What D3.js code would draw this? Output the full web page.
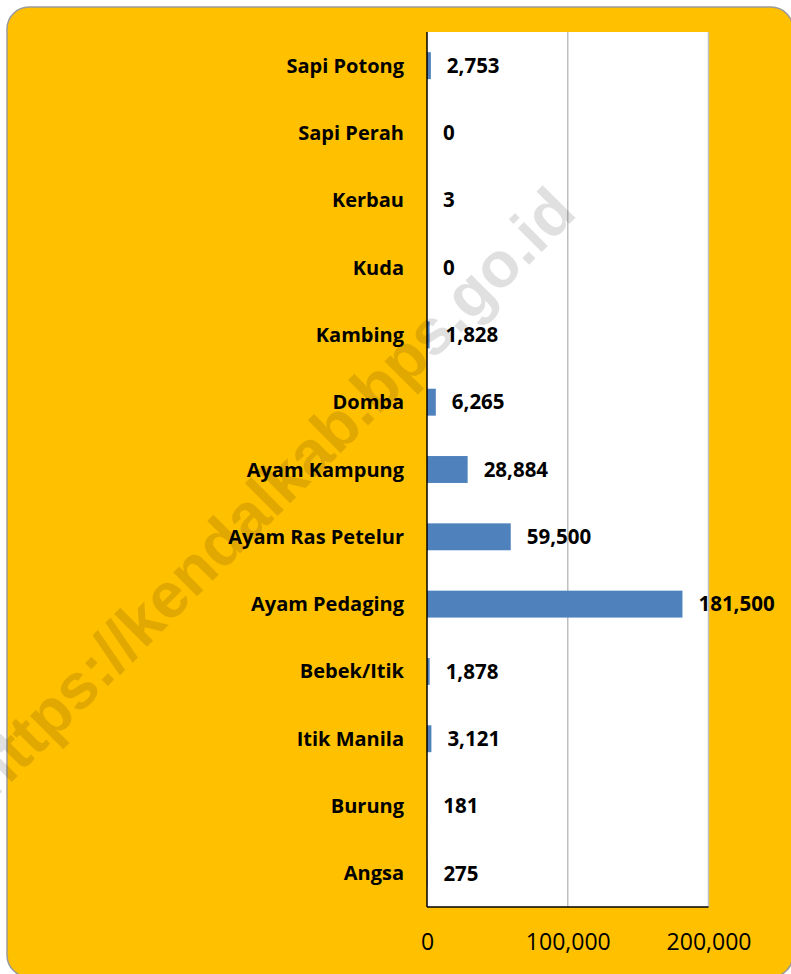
<!DOCTYPE html>
<html>
<head>
<meta charset="utf-8">
<script src="https://cdn.jsdelivr.net/npm/d3@7"></script>
<style>
  html, body { margin: 0; padding: 0; background: #ffffff; }
  svg { display: block; }
</style>
</head>
<body>
<div id="chart"></div>
<script>
const categories = ["Sapi Potong", "Sapi Perah", "Kerbau", "Kuda", "Kambing", "Domba",
  "Ayam Kampung", "Ayam Ras Petelur", "Ayam Pedaging", "Bebek/Itik", "Itik Manila", "Burung", "Angsa"];
const values = [2753, 0, 3, 0, 1828, 6265, 28884, 59500, 181500, 1878, 3121, 181, 275];
const tickValues = [0, 100000, 200000];
const watermark = "https://kendalkab.bps.go.id";

const W = 791, H = 974;
const plot = { left: 427, right: 708.5, top: 32, bottom: 907 };
const labelFont = "'Open Sans', Lato, sans-serif";

const svg = d3.select("#chart").append("svg").attr("width", W).attr("height", H);

// background panel
svg.append("rect")
  .attr("x", 7).attr("y", 7).attr("width", 786).attr("height", 970)
  .attr("rx", 22).attr("ry", 22)
  .attr("fill", "#FFC000").attr("stroke", "#9a9a9a").attr("stroke-width", 1.5);

const x = d3.scaleLinear().domain([0, 200000]).range([plot.left, plot.right]);
const y = d3.scaleBand().domain(categories).range([plot.top, plot.bottom]).paddingInner(0.6).paddingOuter(0.3);

// plot area
svg.append("rect")
  .attr("x", plot.left).attr("y", plot.top)
  .attr("width", plot.right - plot.left).attr("height", plot.bottom - plot.top)
  .attr("fill", "#ffffff");

// gridlines
svg.append("g").selectAll("line").data(tickValues.filter(d => d > 0)).join("line")
  .attr("x1", d => x(d)).attr("x2", d => x(d))
  .attr("y1", plot.top).attr("y2", plot.bottom)
  .attr("stroke", "#bfbfbf").attr("stroke-width", 1.5);

// bars
svg.append("g").selectAll("rect").data(categories).join("rect")
  .attr("x", x(0))
  .attr("y", d => y(d))
  .attr("width", (d, i) => x(values[i]) - x(0))
  .attr("height", y.bandwidth())
  .attr("fill", "#4F81BD");

// axis lines
svg.append("line").attr("x1", plot.left).attr("x2", plot.left).attr("y1", plot.top).attr("y2", plot.bottom)
  .attr("stroke", "#000").attr("stroke-width", 1.5);
svg.append("line").attr("x1", plot.left).attr("x2", plot.right).attr("y1", plot.bottom).attr("y2", plot.bottom)
  .attr("stroke", "#000").attr("stroke-width", 1.5);

// x axis tick labels
const xAxis = d3.axisBottom(x).tickValues(tickValues).tickFormat(d3.format(",")).tickSize(0).tickPadding(0);
const gx = svg.append("g").attr("transform", `translate(0,${plot.bottom})`).call(xAxis);
gx.select(".domain").remove();
gx.selectAll("text")
  .attr("y", 35).attr("dy", "0.35em")
  .attr("font-family", labelFont).attr("font-size", 23).attr("fill", "#000");

// category labels
const yAxis = d3.axisLeft(y).tickSize(0).tickPadding(0);
const gy = svg.append("g").attr("transform", `translate(404,0)`).call(yAxis);
gy.select(".domain").remove();
gy.selectAll("text")
  .attr("x", 0).attr("dy", "0.35em")
  .attr("font-family", labelFont).attr("font-size", 20).attr("font-weight", "bold").attr("fill", "#000");

// value labels
svg.append("g").selectAll("text").data(categories).join("text")
  .attr("x", (d, i) => x(values[i]) + 16)
  .attr("y", d => y(d) + y.bandwidth() / 2)
  .attr("dy", "0.35em")
  .attr("font-family", labelFont).attr("font-size", 20.5).attr("font-weight", "bold").attr("fill", "#000")
  .text((d, i) => d3.format(",")(values[i]));

// watermark
svg.append("text")
  .attr("transform", "translate(270,492) rotate(-45)")
  .attr("text-anchor", "middle").attr("dy", "0.35em")
  .attr("font-family", "'Liberation Sans', Arial, sans-serif").attr("font-weight", "bold")
  .attr("font-size", 64)
  .attr("fill", "#000").attr("fill-opacity", 0.12)
  .text(watermark);
</script>
</body>
</html>
